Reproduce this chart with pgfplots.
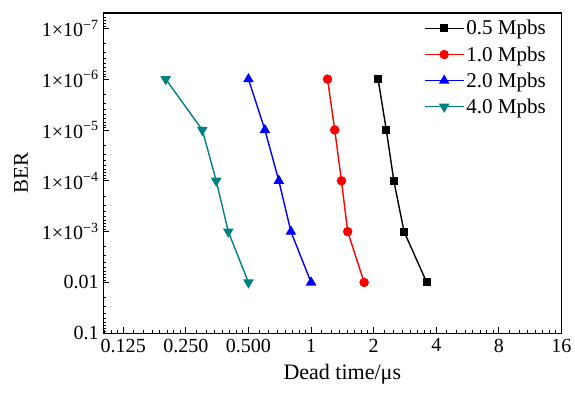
\documentclass[border=0pt]{standalone}
\usepackage{fontspec}
\setmainfont{Liberation Serif}
\usepackage{pgfplots}
\pgfplotsset{compat=1.18}
\definecolor{myteal}{RGB}{0,128,128}
\begin{document}
\begin{tikzpicture}
\begin{axis}[
  scale only axis,
  width=458pt, height=320pt,
  xmode=log, log basis x=2,
  ymode=log, y dir=reverse,
  xmin=0.1, xmax=16,
  ymin=5e-8, ymax=0.1,
  xminorticks=false,
  xtick={0.125,0.25,0.5,1,2,4,8,16},
  xticklabels={0.125,0.250,0.500,1,2,4,8,16},
  extra x ticks={0.1015625,0.109375,0.1171875,
    0.140625,0.15625,0.171875,0.1875,0.203125,0.21875,0.234375,
    0.28125,0.3125,0.34375,0.375,0.40625,0.4375,0.46875,
    0.5625,0.625,0.6875,0.75,0.8125,0.875,0.9375,
    1.125,1.25,1.375,1.5,1.625,1.75,1.875,
    2.25,2.5,2.75,3,3.25,3.5,3.75,
    4.5,5,5.5,6,6.5,7,7.5,
    9,10,11,12,13,14,15},
  extra x tick labels={},
  extra x tick style={major tick length=3pt, tick pos=left, tick align=inside},
  ytick={1e-7,1e-6,1e-5,1e-4,1e-3,0.01,0.1},
  yticklabels={1×10\textsuperscript{−7},1×10\textsuperscript{−6},1×10\textsuperscript{−5},1×10\textsuperscript{−4},1×10\textsuperscript{−3},0.01,0.1},
  minor ytick={6e-8,7e-8,8e-8,9e-8,
    2e-7,3e-7,4e-7,5e-7,6e-7,7e-7,8e-7,9e-7,
    2e-6,3e-6,4e-6,5e-6,6e-6,7e-6,8e-6,9e-6,
    2e-5,3e-5,4e-5,5e-5,6e-5,7e-5,8e-5,9e-5,
    2e-4,3e-4,4e-4,5e-4,6e-4,7e-4,8e-4,9e-4,
    2e-3,3e-3,4e-3,5e-3,6e-3,7e-3,8e-3,9e-3,
    0.02,0.03,0.04,0.05,0.06,0.07,0.08,0.09},
  tick align=inside, tick pos=left,
  major tick length=6pt, minor tick length=3pt,
  every tick/.style={black, line width=0.9pt},
  axis line style={line width=1.1pt},
  tick label style={font=\fontsize{20}{22}\selectfont},
  yticklabel style={xshift=-1pt},
  xticklabel style={yshift=-2pt},
  xlabel={Dead time/μs},
  ylabel={BER},
  xlabel style={font=\fontsize{22}{24}\selectfont, yshift=-5pt, xshift=10pt},
  ylabel style={font=\fontsize{21}{23}\selectfont, yshift=7pt},
  legend style={draw=none, fill=none, at={(0.975,0.99)}, anchor=north east,
    font=\fontsize{21}{23}\selectfont, row sep=6pt, inner sep=2pt},
  legend cell align=left,
  legend image code/.code={\draw[mark repeat=2,mark phase=2] plot coordinates {(0pt,0pt) (19.5pt,0pt) (39pt,0pt)};},
  every axis plot/.append style={line width=1.4pt},
]
\addplot[black, mark=square*, mark size=3.3pt] coordinates {(2.1,1e-6) (2.3,1e-5) (2.5,1e-4) (2.8,1e-3) (3.6,0.01)};
\addlegendentry{0.5 Mpbs}
\addplot[red, mark=*, mark size=4pt] coordinates {(1.2,1e-6) (1.3,1e-5) (1.4,1e-4) (1.5,1e-3) (1.8,0.01)};
\addlegendentry{1.0 Mpbs}
\addplot[blue, mark=triangle*, mark size=4.8pt] coordinates {(0.5,1e-6) (0.6,1e-5) (0.7,1e-4) (0.8,1e-3) (1.0,0.01)};
\addlegendentry{2.0 Mpbs}
\addplot[myteal, mark=triangle*, mark options={rotate=180}, mark size=4.8pt] coordinates {(0.2,1e-6) (0.3,1e-5) (0.35,1e-4) (0.4,1e-3) (0.5,0.01)};
\addlegendentry{4.0 Mpbs}
\end{axis}
\path (current axis.south west) +(-103pt,-59pt);
\path (current axis.north east) +(13.5pt,13pt);
\end{tikzpicture}
\end{document}
